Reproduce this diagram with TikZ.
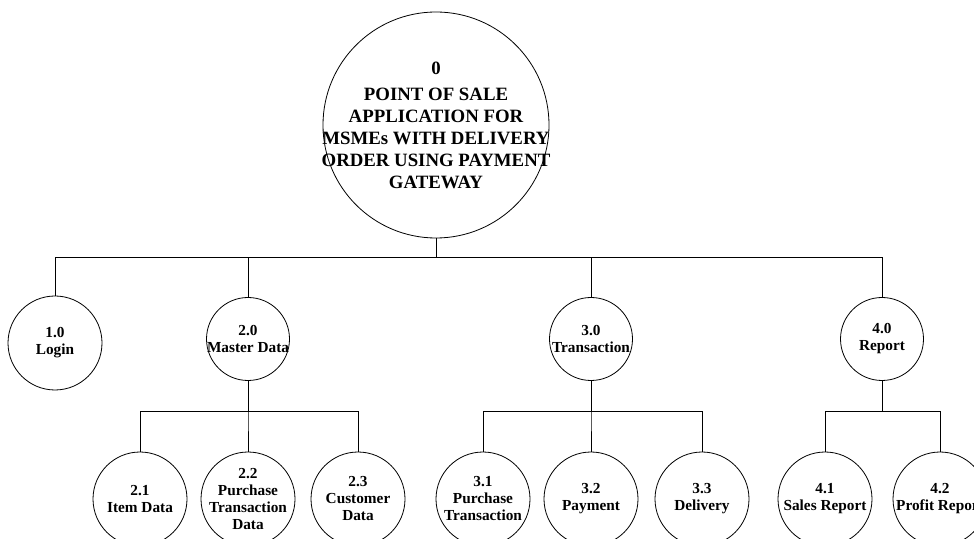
\documentclass[tikz,border=0pt]{standalone}
\usepackage{fontspec}
\setmainfont{Liberation Serif}
\begin{document}
\begin{tikzpicture}[x=1pt, y=1pt,
    proc/.style={draw, circle, line width=0.8pt, minimum size=#1, inner sep=0pt},
    lbl/.style={font=\bfseries\fontsize{15.3}{17}\selectfont, align=center},
    toplbl/.style={font=\bfseries\fontsize{18.8}{22}\selectfont, align=center},
    link/.style={line width=0.8pt}]
    \clip (0,0) rectangle (974,538);
    % Proses utama
    \node[proc=226pt, label={[toplbl]center:0\\[4pt]POINT OF SALE\\APPLICATION FOR\\MSMEs WITH DELIVERY\\ORDER USING PAYMENT\\GATEWAY}] (P0) at (436,413) {};
    % Proses level 1
    \node[proc=94pt, label={[lbl]center:1.0\\Login}] (P1) at (55,195) {};
    \node[proc=83pt, label={[lbl]center:2.0\\Master Data}] (P2) at (248,199) {};
    \node[proc=83pt, label={[lbl]center:3.0\\Transaction}] (P3) at (591,199) {};
    \node[proc=83pt, label={[lbl]center:4.0\\Report}] (P4) at (882,199) {};
    % Proses level 2
    \node[proc=94pt, label={[lbl]center:2.1\\Item Data}] (P21) at (140,39) {};
    \node[proc=94pt, label={[lbl]center:2.2\\Purchase\\Transaction\\Data}] (P22) at (248,39) {};
    \node[proc=94pt, label={[lbl]center:2.3\\Customer\\Data}] (P23) at (358,39) {};
    \node[proc=94pt, label={[lbl]center:3.1\\Purchase\\Transaction}] (P31) at (483,39) {};
    \node[proc=94pt, label={[lbl]center:3.2\\Payment}] (P32) at (591,39) {};
    \node[proc=94pt, label={[lbl]center:3.3\\Delivery}] (P33) at (702,39) {};
    \node[proc=94pt, label={[lbl]center:4.1\\Sales Report}] (P41) at (825,39) {};
    \node[proc=94pt, label={[lbl]center:4.2\\Profit Report}] (P42) at (940,39) {};
    % Garis hubung
    \foreach \c in {P1,P2,P3,P4}
        \draw[link] (P0.south) -- ++(0,-19) -| (\c.north);
    \foreach \c in {P21,P22,P23}
        \draw[link] (P2.south) -- ++(0,-30.5) -| (\c.north);
    \foreach \c in {P31,P32,P33}
        \draw[link] (P3.south) -- ++(0,-30.5) -| (\c.north);
    \foreach \c in {P41,P42}
        \draw[link] (P4.south) -- ++(0,-30.5) -| (\c.north);
\end{tikzpicture}
\end{document}
